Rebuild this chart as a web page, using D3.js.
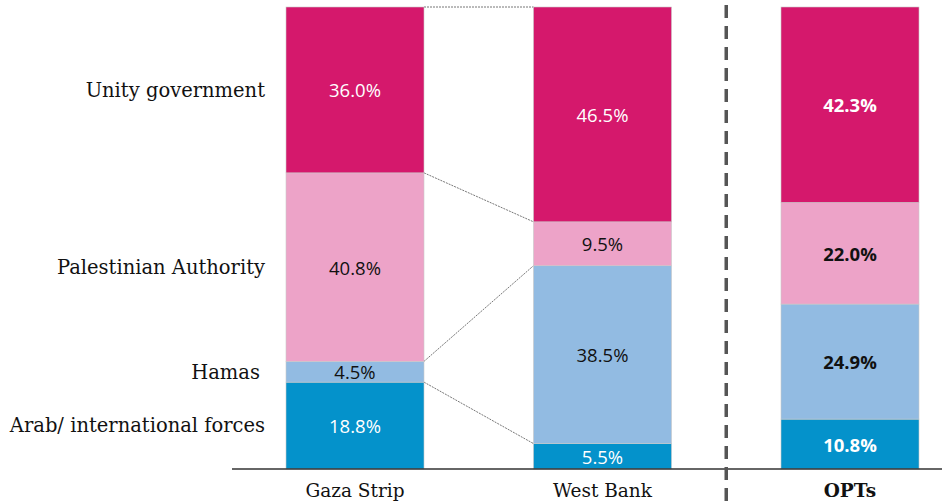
<!DOCTYPE html>
<html>
<head>
<meta charset="utf-8">
<script src="https://cdn.jsdelivr.net/npm/d3@7"></script>
<style>
  body { margin: 0; background: #fff; }
  svg { display: block; }
</style>
</head>
<body>
<svg width="942" height="504"></svg>
<script>
// data, bottom to top
const regions = ['Gaza Strip', 'West Bank', 'OPTs'];
const categories = ['Arab/ international forces', 'Hamas', 'Palestinian Authority', 'Unity government'];
const gaza = [18.8, 4.5, 40.8, 36.0];
const westBank = [5.5, 38.5, 9.5, 46.5];
const opts = [10.8, 24.9, 22.0, 42.3];
const colors = ['#0492cb', '#92bbe2', '#eda3c8', '#d5186c'];
const textColors = ['#fff', '#111', '#111', '#fff'];

const values = [gaza, westBank, opts];

const svg = d3.select('svg');
const barW = 138;
const x = d3.scalePoint().domain(regions).range([355, 850]);
const y = d3.scaleLinear().domain([0, 100]).range([469, 7]);

// stack the values per region
const stacks = values.map((vals, r) => {
    let acc = 0;
    return vals.map((v, i) => {
        const s = { region: regions[r], cat: i, v: v, y0: acc, y1: acc + v };
        acc += v;
        return s;
    });
});
// last segment goes to the top
stacks.forEach(s => { s[s.length - 1].y1 = 100; });

// dotted connectors between gaza and west bank
const g0 = stacks[0], g1 = stacks[1];
const links = g0.map((s, i) => ({ a: s.y1, b: g1[i].y1 }));
svg.selectAll('line.link')
    .data(links)
    .join('line')
    .attr('class', 'link')
    .attr('x1', x('Gaza Strip') + barW / 2)
    .attr('x2', x('West Bank') - barW / 2)
    .attr('y1', d => y(d.a))
    .attr('y2', d => y(d.b))
    .attr('stroke', '#777')
    .attr('stroke-width', 1)
    .attr('stroke-dasharray', '2,1');

const groups = svg.selectAll('g.bar')
    .data(stacks)
    .join('g')
    .attr('class', 'bar');

groups.selectAll('rect')
    .data(d => d)
    .join('rect')
    .attr('x', d => x(d.region) - barW / 2)
    .attr('width', barW)
    .attr('y', d => y(d.y1))
    .attr('height', d => y(d.y0) - y(d.y1))
    .attr('fill', d => colors[d.cat])
    .attr('stroke', '#c9c9c9')
    .attr('stroke-width', 0.6);

groups.selectAll('text')
    .data(d => d)
    .join('text')
    .attr('x', d => x(d.region))
    .attr('y', d => (y(d.y0) + y(d.y1)) / 2 + 1)
    .attr('dy', '0.35em')
    .attr('text-anchor', 'middle')
    .style('font-family', '"Open Sans", "Noto Sans", sans-serif')
    .style('font-size', '18.5px')
    .style('font-weight', d => d.region == 'OPTs' ? 700 : 400)
    .style('fill', d => textColors[d.cat])
    .text(d => d.v.toFixed(1) + '%');

// category labels centred on the gaza segments
svg.selectAll('text.cat')
    .data(stacks[0])
    .join('text')
    .attr('class', 'cat')
    .attr('x', d => d.cat == 1 ? 260 : 265)
    .attr('y', d => (y(d.y0) + y(d.y1)) / 2)
    .attr('dy', '0.35em')
    .attr('text-anchor', 'end')
    .style('font-family', '"DejaVu Serif", serif')
    .style('font-size', '19.5px')
    .style('fill', '#111')
    .text(d => categories[d.cat]);

// baseline
svg.append('line')
    .attr('x1', 232).attr('x2', 942)
    .attr('y1', y(0)).attr('y2', y(0))
    .attr('stroke', '#333').attr('stroke-width', 1.5);

// region labels
svg.selectAll('text.region')
    .data(regions)
    .join('text')
    .attr('class', 'region')
    .attr('x', d => x(d))
    .attr('y', 491)
    .attr('dy', '0.35em')
    .attr('text-anchor', 'middle')
    .style('font-family', '"DejaVu Serif", serif')
    .style('font-size', '18.5px')
    .style('font-weight', d => d == 'OPTs' ? 700 : 400)
    .style('fill', '#111')
    .text(d => d);

// dashed separator
const sepX = (x('West Bank') + x('OPTs')) / 2;
svg.append('line')
    .attr('x1', sepX).attr('x2', sepX)
    .attr('y1', 5).attr('y2', 504)
    .attr('stroke', '#555').attr('stroke-width', 3.5)
    .attr('stroke-dasharray', '13,8');
</script>
</body>
</html>
